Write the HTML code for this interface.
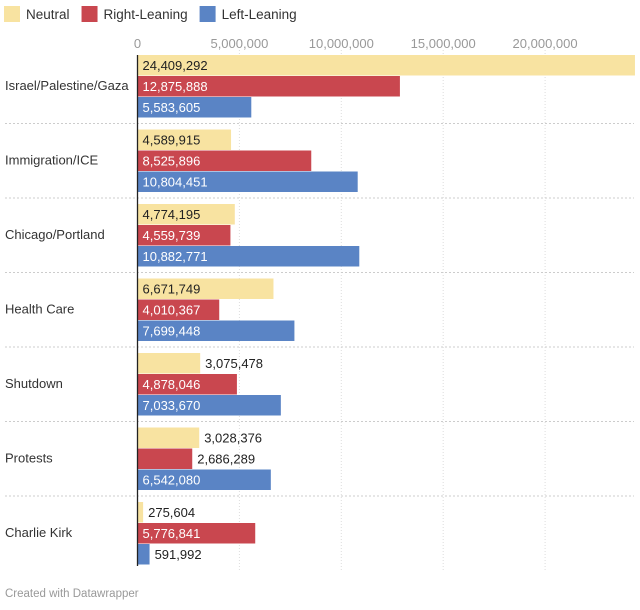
<!DOCTYPE html>
<html><head><meta charset="utf-8"><style>
body{margin:0;background:#fff;font-family:"Liberation Sans",sans-serif;}
svg text{font-family:"Liberation Sans",sans-serif;}
</style></head><body>
<svg id="c" width="640" height="605"></svg>
<script>
const categories=["Israel/Palestine/Gaza","Immigration/ICE","Chicago/Portland","Health Care","Shutdown","Protests","Charlie Kirk"];
const neutral=[24409292,4589915,4774195,6671749,3075478,3028376,275604];
const right=[12875888,8525896,4559739,4010367,4878046,2686289,5776841];
const left=[5583605,10804451,10882771,7699448,7033670,6542080,591992];
const ticks=[0,5000000,10000000,15000000,20000000];
const seriesNames=["Neutral","Right-Leaning","Left-Leaning"];
const colors=["#f8e3a1","#c9474f","#5a84c5"];
const svg=document.getElementById('c');
const NS="http://www.w3.org/2000/svg";
function el(t,a,p){const e=document.createElementNS(NS,t);for(const k in a)e.setAttribute(k,a[k]);(p||svg).appendChild(e);return e;}
const x0=137.5, pxPer=20.38/1e6;
const x=v=>x0+v*pxPer;
const g0=55, gh=74.5, bh=21;
const fmt=v=>v.toLocaleString('en-US');
// legend
let lx=4;
seriesNames.forEach((n,i)=>{
  const g=el('g',{});
  
  
  el('rect',{x:lx,y:6,width:16,height:16,fill:colors[i]},g);
  const t=el('text',{x:lx+22,y:19,'font-size':13.5,fill:'#333'},g);t.textContent=n;
  lx+=22+t.getComputedTextLength()+12;
});
// gridlines & ticks
ticks.forEach(v=>{
  if(v>0){const l=el('line',{x1:x(v),x2:x(v),y1:50,y2:570,stroke:'#ddd','stroke-dasharray':'1,2'});
  }
  const t=el('text',{x:x(v),y:48,'text-anchor':'middle','font-size':13,fill:'#999'});
  
  t.textContent=fmt(v);
});
const series=[neutral,right,left];
categories.forEach((c,ci)=>{
  const gy=g0+ci*gh;
  const lab=el('text',{x:5,y:gy+35,'font-size':13,fill:'#333'});
  
  lab.textContent=c;
  series.forEach((s,si)=>{
    const v=s[ci], y=gy+si*bh, w=x(v)-x0;
    const r=el('rect',{x:x0,y:y,width:w,height:bh-0.5,fill:colors[si]});
    
    
    const txt=fmt(v);
    const t=el('text',{y:y+15,'font-size':13});
    
    t.textContent=txt;
    const tw=t.getComputedTextLength();
    if(tw+10<w){t.setAttribute('x',x0+5);t.setAttribute('fill',si==0?'#222':'#fff');}
    else{t.setAttribute('x',x(v)+5);t.setAttribute('fill','#222');}
  });
  if(ci<categories.length-1){
    const sl=el('line',{x1:5,x2:634,y1:gy+gh-6,y2:gy+gh-6,stroke:'#ccc','stroke-dasharray':'2,2'});
    
  }
});
const ax=el('line',{x1:x0,x2:x0,y1:55,y2:566,stroke:'#222','stroke-width':1.3});

const cr=el('text',{x:5,y:597,'font-size':11.5,fill:'#999'});

cr.textContent='Created with Datawrapper';
</script>
</body></html>
